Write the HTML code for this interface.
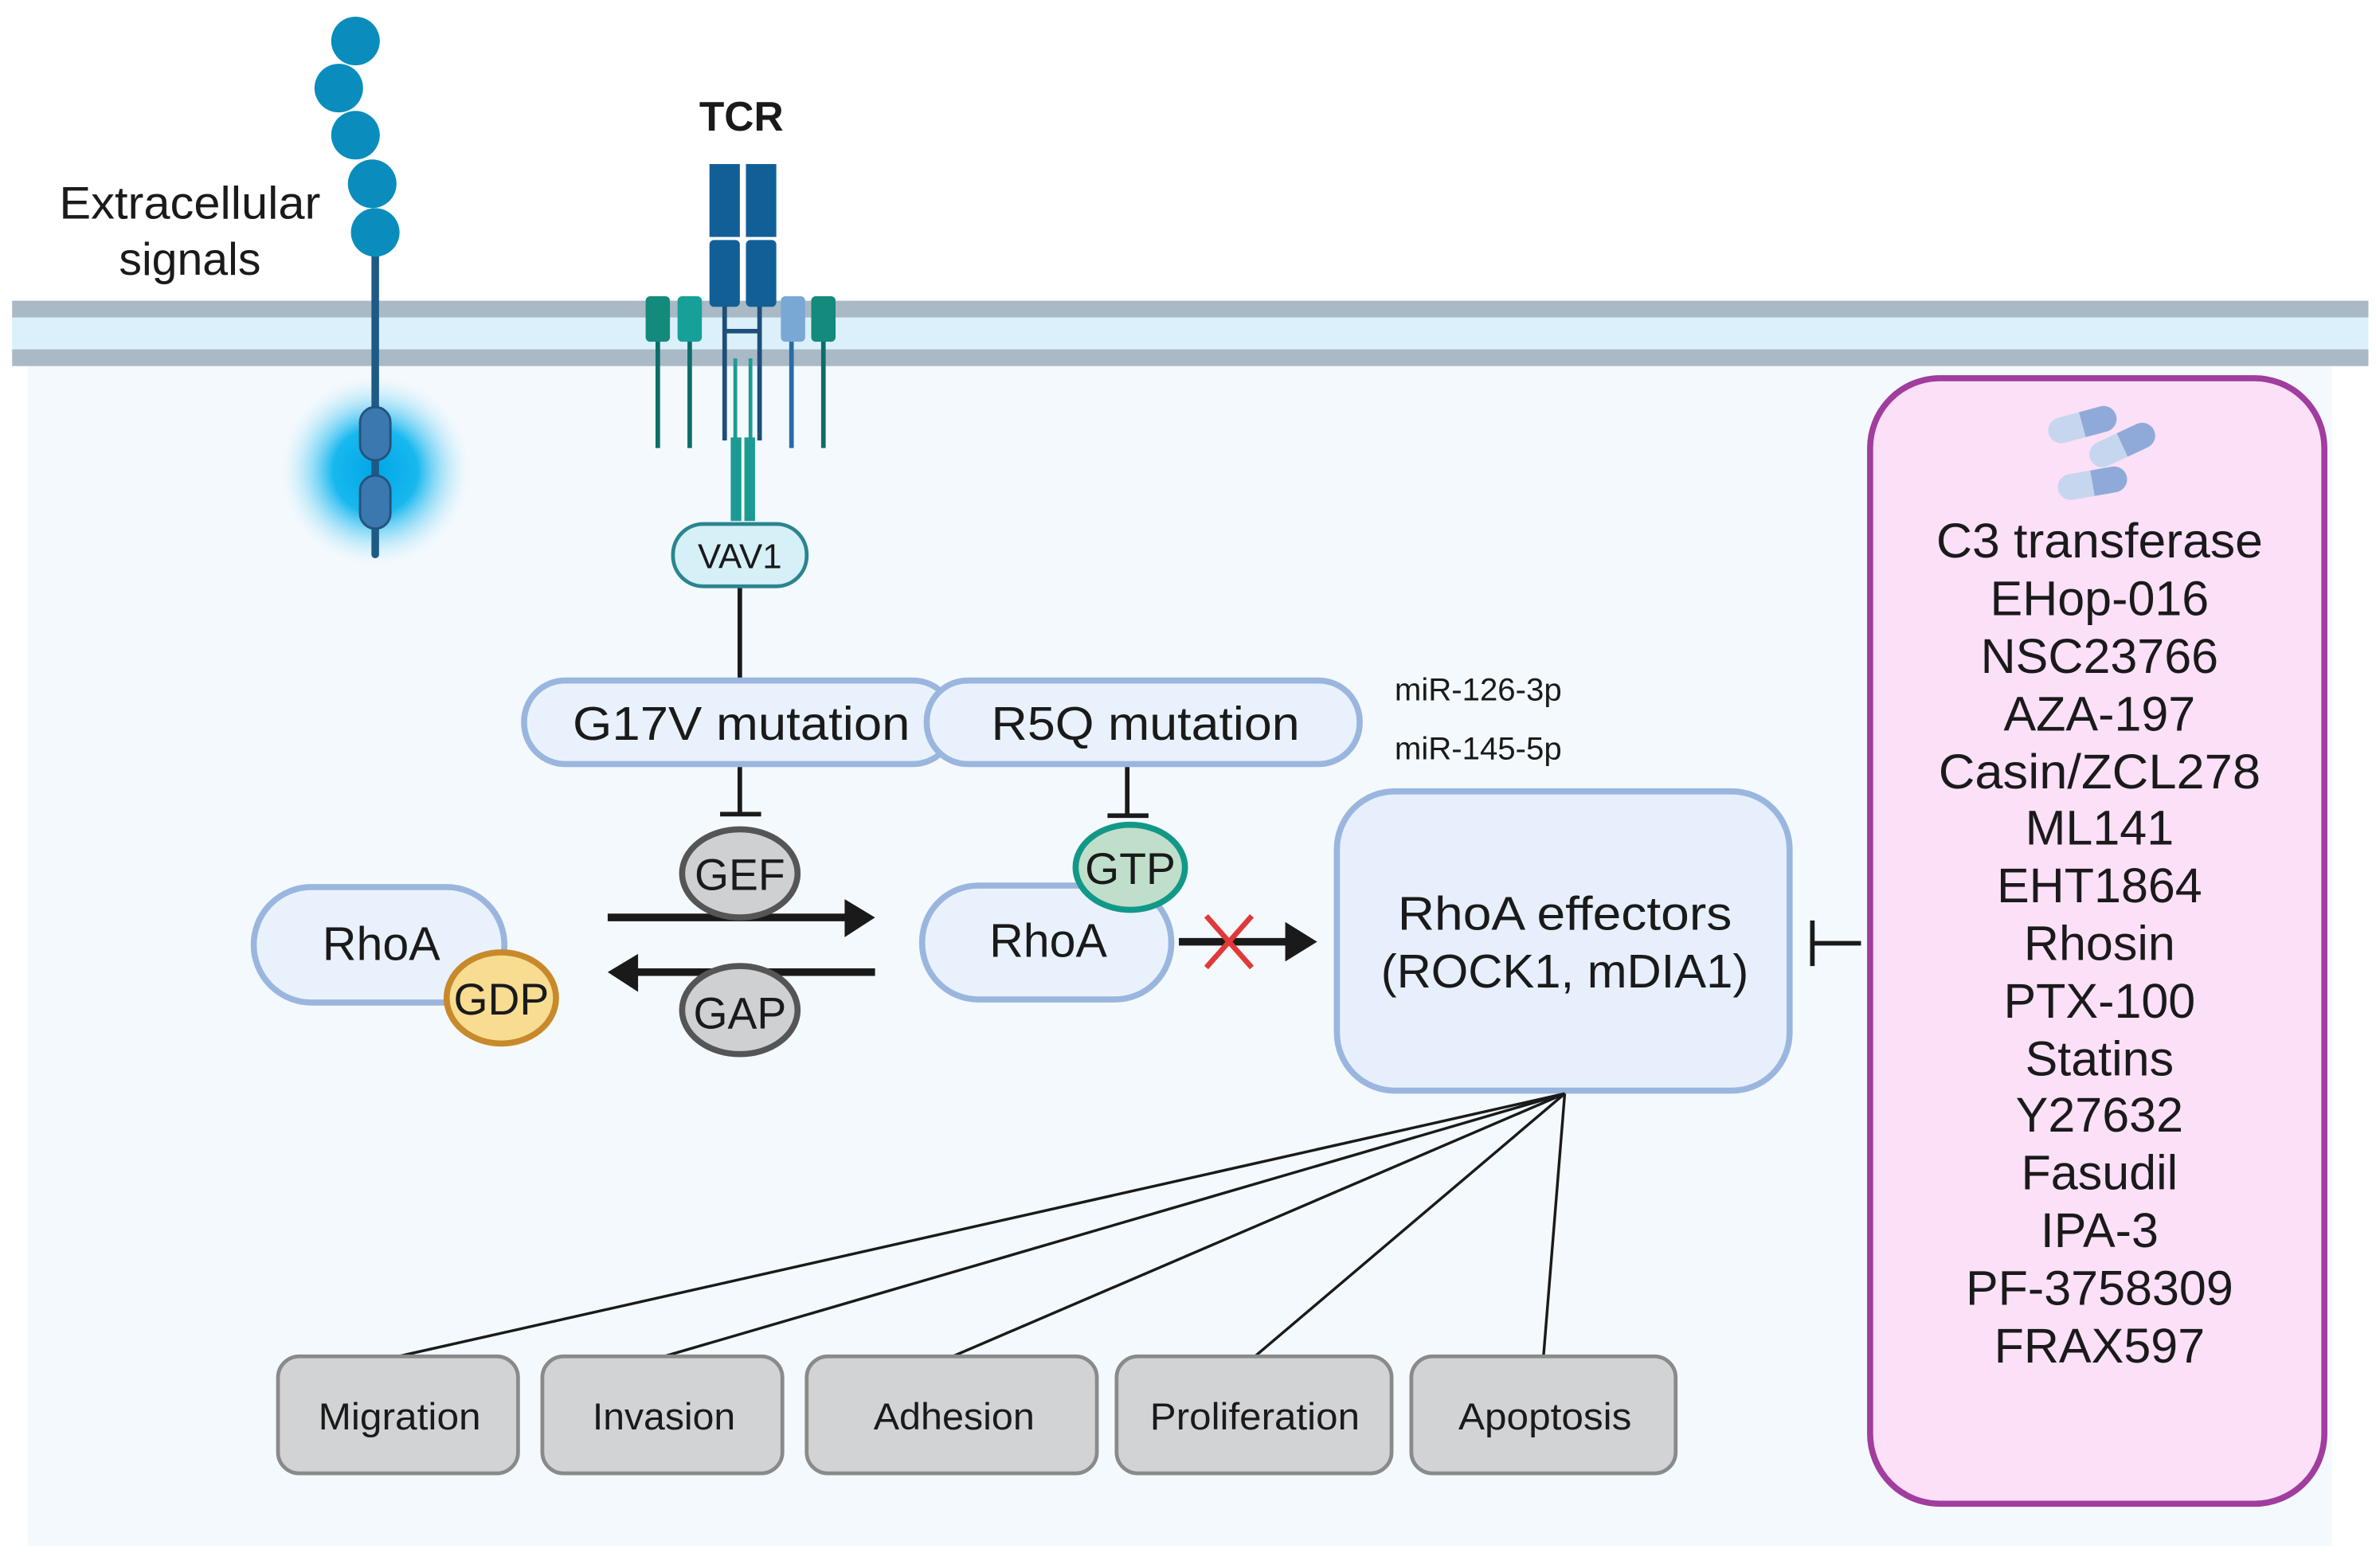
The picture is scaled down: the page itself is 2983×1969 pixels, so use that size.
<!DOCTYPE html>
<html><head><meta charset="utf-8"><style>
html,body{margin:0;padding:0;background:#fff;}
svg{display:block;}
text{font-family:"Liberation Sans",sans-serif;fill:#1a1a1a;}
</style></head><body>
<svg width="2983" height="1969" viewBox="0 0 1564 1032.3" preserveAspectRatio="none" xmlns="http://www.w3.org/2000/svg">
<defs>
<radialGradient id="glow"><stop offset="0" stop-color="#00a6e6"/><stop offset="0.45" stop-color="#18b8ef"/><stop offset="1" stop-color="#bfeaf9" stop-opacity="0"/></radialGradient>
</defs>
<rect x="0" y="0" width="1564" height="1032" fill="#fff"/>
<rect x="18" y="236" width="1517" height="782" fill="#f4f9fd"/>
<!-- membrane -->
<rect x="8" y="198" width="1551" height="43" fill="#dbf0fb"/>
<rect x="8" y="198" width="1551" height="11" fill="#a9b9c6"/>
<rect x="8" y="230" width="1551" height="11" fill="#a9b9c6"/>
<!-- receptor -->
<circle cx="247" cy="310" r="62" fill="url(#glow)"/>
<line x1="247" y1="153" x2="247" y2="365" stroke="#1d5a86" stroke-width="5" stroke-linecap="round"/>
<rect x="237" y="268" width="20" height="35" rx="10" fill="#3b78b0" stroke="#24527a" stroke-width="1.5"/>
<rect x="237" y="313" width="20" height="35" rx="10" fill="#3b78b0" stroke="#24527a" stroke-width="1.5"/>
<g fill="#0a8dbd"><circle cx="234" cy="27" r="16"/><circle cx="223" cy="58" r="16"/><circle cx="234" cy="89" r="16"/><circle cx="245" cy="121" r="16"/><circle cx="247" cy="153" r="16"/></g>
<text x="125" y="144" font-size="30" text-anchor="middle" textLength="172" lengthAdjust="spacingAndGlyphs">Extracellular</text>
<text x="125" y="181" font-size="30" text-anchor="middle">signals</text>
<!-- TCR -->
<text x="488" y="86" font-size="27" font-weight="bold" text-anchor="middle">TCR</text>
<g stroke="#1d4f78" stroke-width="3"><line x1="477" y1="200" x2="477" y2="290"/><line x1="500" y1="200" x2="500" y2="290"/><line x1="477" y1="218" x2="500" y2="218"/></g>
<rect x="467" y="108" width="20" height="48" fill="#125f97"/><rect x="491" y="108" width="20" height="48" fill="#125f97"/>
<rect x="467" y="158" width="20" height="44" rx="3" fill="#125f97"/><rect x="491" y="158" width="20" height="44" rx="3" fill="#125f97"/>
<g stroke-width="3"><line x1="433" y1="220" x2="433" y2="295" stroke="#0e6d68"/><line x1="454" y1="220" x2="454" y2="295" stroke="#0e6d68"/><line x1="521" y1="220" x2="521" y2="295" stroke="#2a6aa8"/><line x1="542" y1="220" x2="542" y2="295" stroke="#0e6d68"/></g>
<rect x="425" y="195" width="16" height="30" rx="3" fill="#138a7c"/><rect x="446" y="195" width="16" height="30" rx="3" fill="#17a098"/>
<rect x="514" y="195" width="16" height="30" rx="3" fill="#7aa8d4"/><rect x="534" y="195" width="16" height="30" rx="3" fill="#138a7c"/>
<g stroke="#1b9b93" stroke-width="2.5"><line x1="484" y1="236" x2="484" y2="290"/><line x1="494" y1="236" x2="494" y2="290"/></g>
<rect x="481" y="288" width="7" height="55" fill="#1b9b93"/><rect x="490" y="288" width="7" height="55" fill="#1b9b93"/>
<!-- VAV1 -->
<line x1="487" y1="385" x2="487" y2="448" stroke="#1a1a1a" stroke-width="3"/>
<rect x="443" y="345" width="88" height="41" rx="20" fill="#d6f0f7" stroke="#2a8590" stroke-width="2.5"/>
<text x="487" y="374" font-size="23" text-anchor="middle">VAV1</text>
<!-- mutations -->
<rect x="345" y="448" width="283" height="55" rx="27" fill="#e9f2fc" stroke="#9ab6df" stroke-width="4"/>
<rect x="610" y="448" width="285" height="55" rx="27" fill="#e9f2fc" stroke="#9ab6df" stroke-width="4"/>
<text x="488" y="487" font-size="31" text-anchor="middle" textLength="222" lengthAdjust="spacingAndGlyphs">G17V mutation</text>
<text x="754" y="487" font-size="31" text-anchor="middle" textLength="203" lengthAdjust="spacingAndGlyphs">R5Q mutation</text>
<text x="918" y="461" font-size="21" textLength="110" lengthAdjust="spacingAndGlyphs">miR-126-3p</text>
<text x="918" y="500" font-size="21" textLength="110" lengthAdjust="spacingAndGlyphs">miR-145-5p</text>
<!-- inhibition -->
<g stroke="#1a1a1a" stroke-width="3"><line x1="487" y1="505" x2="487" y2="536"/><line x1="474" y1="536" x2="501" y2="536"/>
<line x1="742" y1="505" x2="742" y2="537"/><line x1="729" y1="537" x2="756" y2="537"/></g>
<!-- arrows -->
<line x1="400" y1="604" x2="560" y2="604" stroke="#1a1a1a" stroke-width="5"/><path d="M556,592 L576,604 L556,617 z" fill="#1a1a1a"/>
<line x1="415" y1="640" x2="576" y2="640" stroke="#1a1a1a" stroke-width="5"/><path d="M420,628 L400,640 L420,653 z" fill="#1a1a1a"/>
<ellipse cx="487" cy="575" rx="38" ry="29" fill="#cfd0d2" stroke="#555" stroke-width="4"/>
<text x="487" y="586" font-size="29" text-anchor="middle">GEF</text>
<ellipse cx="487" cy="665" rx="38" ry="29" fill="#cfd0d2" stroke="#555" stroke-width="4"/>
<text x="487" y="677" font-size="29" text-anchor="middle">GAP</text>
<!-- RhoA left -->
<rect x="167" y="584" width="165" height="76" rx="38" fill="#e9f2fc" stroke="#9ab6df" stroke-width="4"/>
<text x="251" y="632" font-size="31" text-anchor="middle">RhoA</text>
<ellipse cx="330" cy="657" rx="36" ry="30" fill="#f8dc92" stroke="#c8892a" stroke-width="4"/>
<text x="330" y="668" font-size="29" text-anchor="middle">GDP</text>
<!-- RhoA right -->
<rect x="607" y="583" width="164" height="75" rx="37" fill="#e9f2fc" stroke="#9ab6df" stroke-width="4"/>
<text x="690" y="630" font-size="31" text-anchor="middle">RhoA</text>
<ellipse cx="744" cy="571" rx="36" ry="28" fill="#c0dfcb" stroke="#129888" stroke-width="4"/>
<text x="744" y="582" font-size="29" text-anchor="middle">GTP</text>
<line x1="776" y1="620" x2="850" y2="620" stroke="#1a1a1a" stroke-width="5"/><path d="M846,607 L867,620 L846,633 z" fill="#1a1a1a"/>
<g stroke="#e0393a" stroke-width="3.5"><line x1="794" y1="603" x2="824" y2="637"/><line x1="824" y1="603" x2="794" y2="637"/></g>
<!-- effectors -->
<rect x="880" y="521" width="298" height="197" rx="38" fill="#e6effb" stroke="#9ab6df" stroke-width="4"/>
<text x="1030" y="612" font-size="31" text-anchor="middle" textLength="220" lengthAdjust="spacingAndGlyphs">RhoA effectors</text>
<text x="1030" y="650" font-size="31" text-anchor="middle" textLength="242" lengthAdjust="spacingAndGlyphs">(ROCK1, mDIA1)</text>
<g stroke="#1a1a1a" stroke-width="3"><line x1="1225" y1="621" x2="1193" y2="621"/><line x1="1193" y1="606" x2="1193" y2="636"/></g>
<!-- outcomes -->
<g stroke="#1a1a1a" stroke-width="1.8"><line x1="1030" y1="720" x2="262" y2="893"/><line x1="1030" y1="720" x2="437" y2="893"/><line x1="1030" y1="720" x2="627" y2="893"/><line x1="1030" y1="720" x2="826" y2="893"/><line x1="1030" y1="720" x2="1016" y2="893"/></g>
<g fill="#d2d3d5" stroke="#8a8a8a" stroke-width="2.5">
<rect x="183" y="893" width="158" height="77" rx="14"/><rect x="357" y="893" width="158" height="77" rx="14"/><rect x="531" y="893" width="191" height="77" rx="14"/><rect x="735" y="893" width="181" height="77" rx="14"/><rect x="929" y="893" width="174" height="77" rx="14"/></g>
<g font-size="25" text-anchor="middle"><text x="263" y="941" textLength="107" lengthAdjust="spacingAndGlyphs">Migration</text><text x="437" y="941" textLength="94" lengthAdjust="spacingAndGlyphs">Invasion</text><text x="628" y="941" textLength="106" lengthAdjust="spacingAndGlyphs">Adhesion</text><text x="826" y="941" textLength="138" lengthAdjust="spacingAndGlyphs">Proliferation</text><text x="1017" y="941" textLength="114" lengthAdjust="spacingAndGlyphs">Apoptosis</text></g>
<!-- drugs -->
<rect x="1231" y="249" width="299" height="741" rx="46" fill="#fbe0f8" stroke="#a03d9e" stroke-width="4"/>
<g transform="translate(1385,298)">
<g transform="rotate(-15)"><rect x="-32" y="-30" width="46" height="17" rx="8.5" fill="#c6d6ee"/><rect x="-9" y="-30" width="23" height="17" rx="8.5" fill="#8faad8"/><rect x="-9" y="-30" width="10" height="17" fill="#8faad8"/></g>
<g transform="rotate(-25)"><rect x="-10" y="-8" width="46" height="17" rx="8.5" fill="#c6d6ee"/><rect x="13" y="-8" width="23" height="17" rx="8.5" fill="#8faad8"/><rect x="13" y="-8" width="10" height="17" fill="#8faad8"/></g>
<g transform="rotate(-10)"><rect x="-34" y="10" width="46" height="17" rx="8.5" fill="#c6d6ee"/><rect x="-11" y="10" width="23" height="17" rx="8.5" fill="#8faad8"/><rect x="-11" y="10" width="10" height="17" fill="#8faad8"/></g>
</g>
<g font-size="32" text-anchor="middle">
<text x="1382" y="367" textLength="215" lengthAdjust="spacingAndGlyphs">C3 transferase</text><text x="1382" y="405">EHop-016</text><text x="1382" y="443">NSC23766</text><text x="1382" y="481">AZA-197</text><text x="1382" y="519" textLength="212" lengthAdjust="spacingAndGlyphs">Casin/ZCL278</text><text x="1382" y="556">ML141</text><text x="1382" y="594">EHT1864</text><text x="1382" y="632">Rhosin</text><text x="1382" y="670">PTX-100</text><text x="1382" y="708">Statins</text><text x="1382" y="745">Y27632</text><text x="1382" y="783">Fasudil</text><text x="1382" y="821">IPA-3</text><text x="1382" y="859">PF-3758309</text><text x="1382" y="897">FRAX597</text>
</g>
</svg>
</body></html>
